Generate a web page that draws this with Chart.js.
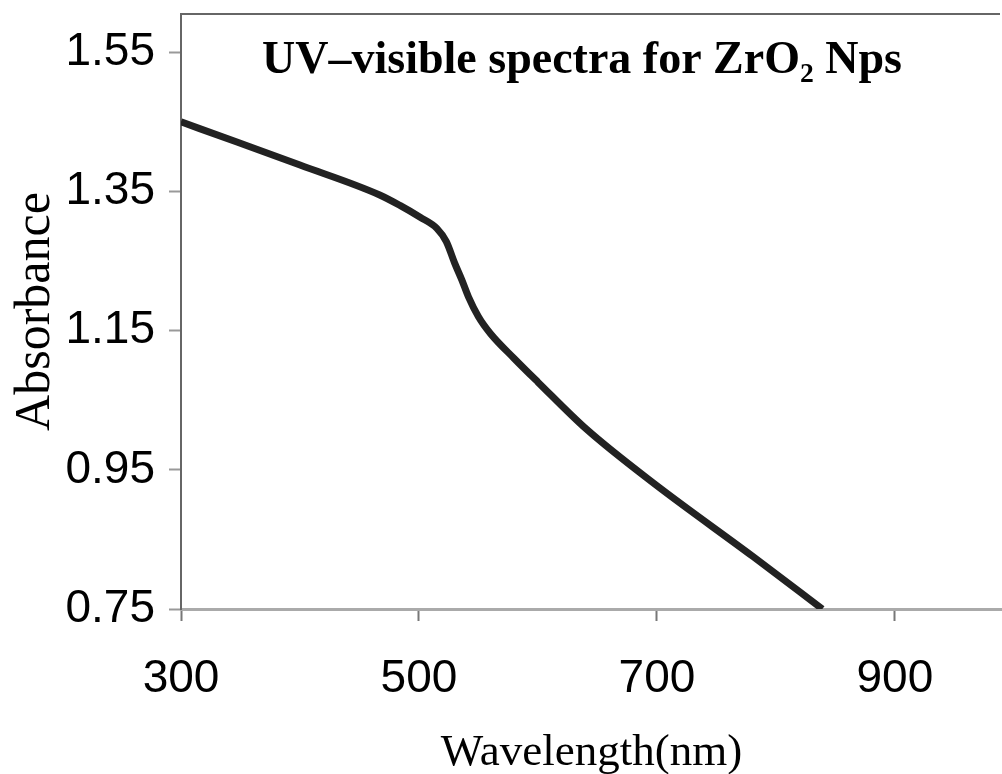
<!DOCTYPE html>
<html>
<head>
<meta charset="utf-8">
<script src="https://cdn.jsdelivr.net/npm/chart.js@4"></script>
<style>
  html, body { margin: 0; padding: 0; background: #fff; }
  #wrap { width: 1002px; height: 774px; position: relative; }
</style>
</head>
<body>
<div id="wrap"><canvas id="uvChart"></canvas></div>
<script>
// Data
const wavelengths = [300, 347, 400, 467, 484, 501, 515, 523, 530, 536, 541.5, 550, 560, 580, 600, 641, 697, 781, 839];
const absorbance = [1.450, 1.421, 1.388, 1.345, 1.330, 1.313, 1.297, 1.278, 1.247, 1.223, 1.199, 1.170, 1.146, 1.110, 1.076, 1.008, 0.931, 0.825, 0.750];

// Axis ticks
const xTicks = [300, 500, 700, 900];
const yTicks = [0.75, 0.95, 1.15, 1.35, 1.55];

const chartTitle = 'UV\u2013visible spectra for ZrO\u2082 Nps';

// Title inside the plot box + top frame line
const boxTitle = {
    id: 'boxTitle',
    afterDraw(chart) {
        const { ctx, chartArea } = chart;
        ctx.save();
        ctx.strokeStyle = '#666';
        ctx.lineWidth = 2;
        ctx.beginPath();
        ctx.moveTo(chartArea.left, chartArea.top);
        ctx.lineTo(chartArea.right - 2, chartArea.top);
        ctx.stroke();

        ctx.fillStyle = '#000';
        ctx.font = 'bold 46px "Liberation Serif", "Times New Roman", serif';
        ctx.textAlign = 'center';
        ctx.textBaseline = 'alphabetic';
        ctx.fillText(chartTitle, chartArea.left + 401, chartArea.top + 59);
        ctx.restore();
    }
};

const data = wavelengths.map((w, i) => ({ x: w, y: absorbance[i] }));

new Chart(document.getElementById('uvChart'), {
    type: 'line',
    data: {
        datasets: [{
            data: data,
            borderColor: '#222',
            borderWidth: 7,
            pointRadius: 0,
            fill: false,
            cubicInterpolationMode: 'monotone'
        }]
    },
    options: {
        responsive: true,
        maintainAspectRatio: false,
        animation: false,
        layout: { padding: { top: 14, right: 0, left: 0, bottom: 0 } },
        plugins: {
            legend: { display: false },
            tooltip: { enabled: false }
        },
        scales: {
            x: {
                type: 'linear',
                min: 300,
                max: 990,
                afterFit: s => { s.height = 165; s.paddingLeft = 0; s.paddingRight = 0; },
                afterBuildTicks: s => { s.ticks = xTicks.map(v => ({ value: v })); },
                ticks: {
                    color: '#000',
                    padding: 31,
                    maxRotation: 0,
                    font: { family: '"Liberation Sans", Arial, sans-serif', size: 46 },
                    callback: v => String(v)
                },
                grid: {
                    drawOnChartArea: false,
                    tickLength: 12,
                    tickWidth: 2,
                    color: '#777'
                },
                border: { color: '#aaa', width: 3 },
                title: {
                    display: true,
                    text: 'Wavelength(nm)',
                    color: '#000',
                    font: { family: '"Liberation Serif", "Times New Roman", serif', size: 45, lineHeight: 1 },
                    padding: { top: 0, bottom: -2 }
                }
            },
            y: {
                min: 0.75,
                max: 1.605,
                afterFit: s => { s.width = 181; s.paddingTop = 0; s.paddingBottom = 0; },
                afterBuildTicks: s => { s.ticks = yTicks.map(v => ({ value: v })); },
                ticks: {
                    color: '#000',
                    padding: 14,
                    font: { family: '"Liberation Sans", Arial, sans-serif', size: 46 },
                    callback: v => Number(v).toFixed(2)
                },
                grid: {
                    drawOnChartArea: false,
                    tickLength: 12,
                    tickWidth: 2,
                    color: '#999'
                },
                border: { color: '#666', width: 2 },
                title: {
                    display: true,
                    text: 'Absorbance',
                    color: '#000',
                    font: { family: '"Liberation Serif", "Times New Roman", serif', size: 50, lineHeight: 1 },
                    padding: { top: 11, bottom: 0 }
                }
            }
        }
    },
    plugins: [boxTitle]
});
</script>
</body>
</html>
